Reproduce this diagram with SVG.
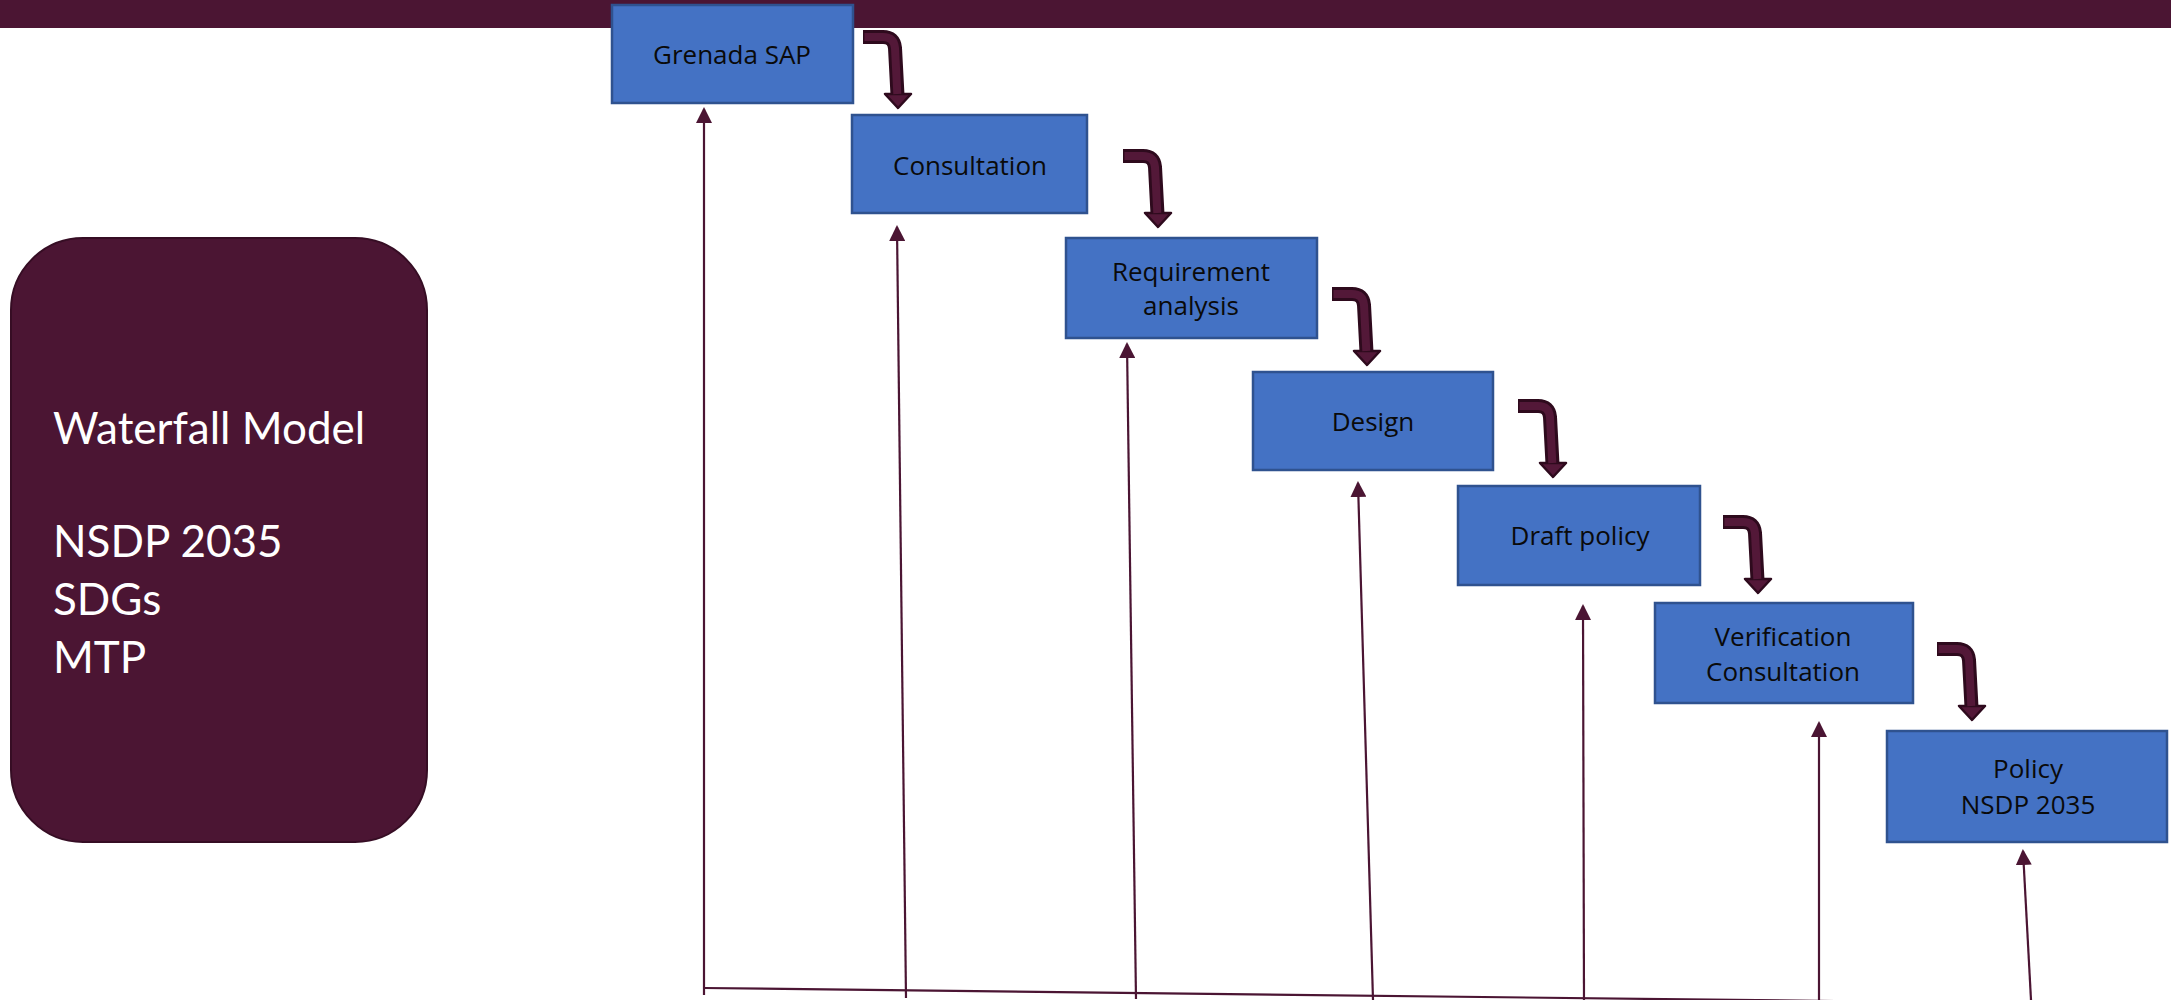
<svg xmlns="http://www.w3.org/2000/svg" xmlns:xlink="http://www.w3.org/1999/xlink" width="2171" height="1000" viewBox="0 0 2171 1000">
<style>
.box{fill:#4472C4;stroke:#2F528F;stroke-width:2.5}
.lbl{font-family:"Open Sans","Liberation Sans",sans-serif;font-size:26px;fill:#0a0a0a;text-anchor:middle}
.side{font-family:Lato,"Noto Sans",sans-serif;font-size:44px;fill:#ffffff}
.thin{stroke:#4b1533;stroke-width:2.2;fill:none}
.bend-out{fill:none;stroke:#2e0a1d;stroke-width:14}
.bend-in{fill:none;stroke:#531838;stroke-width:8}
.head{fill:#531838;stroke:#2e0a1d;stroke-width:2.5;stroke-linejoin:round}
</style>
<defs>
<marker id="tri" markerUnits="userSpaceOnUse" viewBox="0 0 16 16" markerWidth="16" markerHeight="16" refX="14" refY="8" orient="auto">
<path d="M0,0 L16,8 L0,16 z" fill="#4b1533"/>
</marker>
<g id="bend">
<path class="bend-out" d="M0,0 L20,0 Q31,0 32,11 L34.5,58"/>
<polygon class="head" points="22,57 48,57 35,71"/>
<path class="bend-in" d="M1.5,0 L20,0 Q31,0 32,11 L34.3,57"/>
</g>
</defs>
<rect id="banner" x="0" y="0" width="2171" height="28" fill="#4b1533"/>
<g id="side-panel">
<rect x="11" y="238" width="416" height="604" rx="72" ry="72" fill="#4b1533" stroke="#360d24" stroke-width="2"/>
<text class="side" x="53" y="444">Waterfall Model</text>
<text class="side" x="53" y="557">NSDP 2035</text>
<text class="side" x="53" y="615">SDGs</text>
<text class="side" x="53" y="673">MTP</text>
</g>
<g id="connectors">
<line class="thin" x1="704" y1="988" x2="2000" y2="1003"/>
<line class="thin" x1="704" y1="995" x2="704" y2="109" marker-end="url(#tri)"/>
<line class="thin" x1="906" y1="998" x2="897" y2="227" marker-end="url(#tri)"/>
<line class="thin" x1="1136" y1="999" x2="1127" y2="344" marker-end="url(#tri)"/>
<line class="thin" x1="1373" y1="1000" x2="1358" y2="483" marker-end="url(#tri)"/>
<line class="thin" x1="1584" y1="1000" x2="1583" y2="606" marker-end="url(#tri)"/>
<line class="thin" x1="1819" y1="1000" x2="1819" y2="723" marker-end="url(#tri)"/>
<line class="thin" x1="2031" y1="1000" x2="2023" y2="851" marker-end="url(#tri)"/>
<use xlink:href="#bend" x="863" y="37"/>
<use xlink:href="#bend" x="1123" y="156"/>
<use xlink:href="#bend" x="1332" y="294"/>
<use xlink:href="#bend" x="1518" y="406"/>
<use xlink:href="#bend" x="1723" y="522"/>
<use xlink:href="#bend" x="1937" y="649"/>
</g>
<g id="node-grenada">
<rect class="box" x="612" y="5" width="241" height="98"/>
<text class="lbl" x="732" y="64">Grenada SAP</text>
</g>
<g id="node-consultation">
<rect class="box" x="852" y="115" width="235" height="98"/>
<text class="lbl" x="970" y="175">Consultation</text>
</g>
<g id="node-requirement">
<rect class="box" x="1066" y="238" width="251" height="100"/>
<text class="lbl" x="1191" y="281">Requirement</text>
<text class="lbl" x="1191" y="315">analysis</text>
</g>
<g id="node-design">
<rect class="box" x="1253" y="372" width="240" height="98"/>
<text class="lbl" x="1373" y="431">Design</text>
</g>
<g id="node-draft">
<rect class="box" x="1458" y="486" width="242" height="99"/>
<text class="lbl" x="1580" y="545">Draft policy</text>
</g>
<g id="node-verification">
<rect class="box" x="1655" y="603" width="258" height="100"/>
<text class="lbl" x="1783" y="646">Verification</text>
<text class="lbl" x="1783" y="681">Consultation</text>
</g>
<g id="node-policy">
<rect class="box" x="1887" y="731" width="280" height="111"/>
<text class="lbl" x="2028" y="778">Policy</text>
<text class="lbl" x="2028" y="814">NSDP 2035</text>
</g>
</svg>
